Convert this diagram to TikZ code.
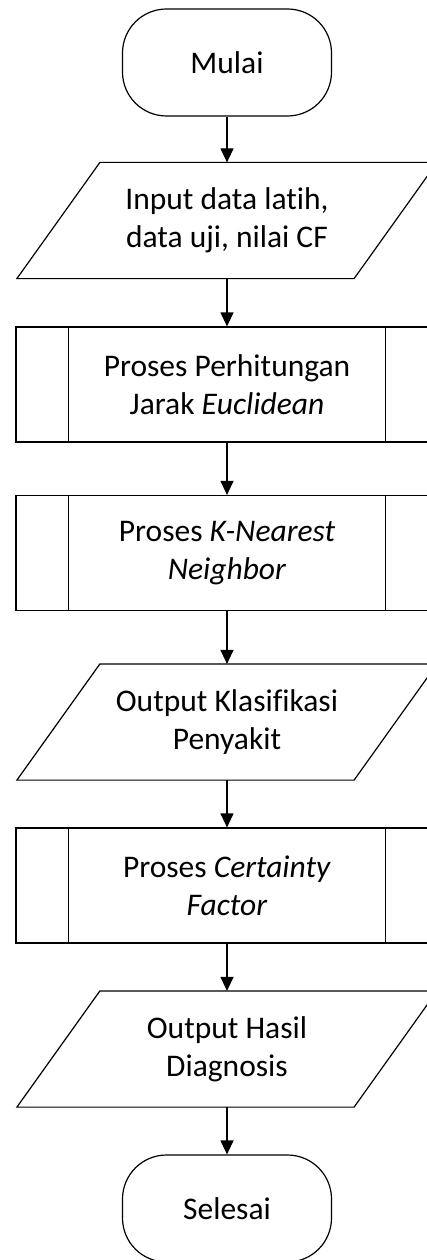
\documentclass[tikz,border=0pt]{standalone}
\usepackage{fontspec}
\setmainfont{Carlito}[Ligatures=NoCommon]
\usepackage{tikz}
\usetikzlibrary{arrows.meta}

\begin{document}
\begin{tikzpicture}[x=1pt,y=-1pt,line width=1.2pt,
  arr/.style={-{Triangle[length=14pt,width=13pt]},line width=1.2pt},
  txt/.style={align=center,font=\fontsize{31.5}{38}\selectfont},
  term/.style={txt,draw,rounded corners=44pt,minimum width=209pt,minimum height=107pt},
  io/.style={txt,minimum width=336pt,minimum height=115pt},
  proc/.style={txt,draw,minimum width=422pt,minimum height=115pt}]
  \useasboundingbox (0,0) rectangle (427,1260);
  \fill[white] (0,0) rectangle (427,1260);

  % Start
  \node[term] (mulai) at (227,62.5) {Mulai};

  % Input
  \node[io] (input) at (227,220.5) {Input data latih,\\data uji, nilai CF};
  \draw ([xshift=-41.5pt]input.south west) -- ([xshift=41.5pt]input.north west)
    -- ([xshift=41.5pt]input.north east) -- ([xshift=-41.5pt]input.south east) -- cycle;

  % Euclidean distance
  \node[proc] (jarak) at (227,384.5) {Proses Perhitungan\\Jarak \textit{Euclidean}};
  \draw ([xshift=53pt]jarak.north west) -- ([xshift=53pt]jarak.south west);
  \draw ([xshift=-53pt]jarak.north east) -- ([xshift=-53pt]jarak.south east);

  % KNN
  \node[proc] (knn) at (227,553) {Proses \textit{K-Nearest}\\\textit{Neighbor}};
  \draw ([xshift=53pt]knn.north west) -- ([xshift=53pt]knn.south west);
  \draw ([xshift=-53pt]knn.north east) -- ([xshift=-53pt]knn.south east);

  % Output klasifikasi
  \node[io] (klas) at (227,722) {Output Klasifikasi\\Penyakit};
  \draw ([xshift=-41.5pt]klas.south west) -- ([xshift=41.5pt]klas.north west)
    -- ([xshift=41.5pt]klas.north east) -- ([xshift=-41.5pt]klas.south east) -- cycle;

  % Certainty factor
  \node[proc] (cf) at (227,885.5) {Proses \textit{Certainty}\\\textit{Factor}};
  \draw ([xshift=53pt]cf.north west) -- ([xshift=53pt]cf.south west);
  \draw ([xshift=-53pt]cf.north east) -- ([xshift=-53pt]cf.south east);

  % Output diagnosis
  \node[io] (hasil) at (227,1049) {Output Hasil\\Diagnosis};
  \draw ([xshift=-41.5pt]hasil.south west) -- ([xshift=41.5pt]hasil.north west)
    -- ([xshift=41.5pt]hasil.north east) -- ([xshift=-41.5pt]hasil.south east) -- cycle;

  % End
  \node[term] (selesai) at (227,1208.5) {Selesai};

  % Flow
  \draw[arr] (mulai.south) -- (input.north);
  \draw[arr] (input.south) -- (jarak.north);
  \draw[arr] (jarak.south) -- (knn.north);
  \draw[arr] (knn.south) -- (klas.north);
  \draw[arr] (klas.south) -- (cf.north);
  \draw[arr] (cf.south) -- (hasil.north);
  \draw[arr] (hasil.south) -- (selesai.north);
\end{tikzpicture}
\end{document}
